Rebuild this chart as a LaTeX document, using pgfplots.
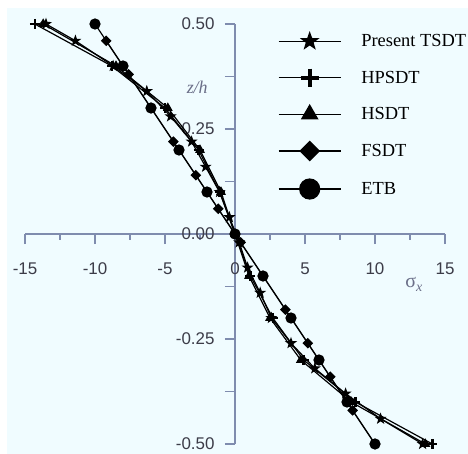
\documentclass[border=0pt]{standalone}
\usepackage{pgfplots}
\pgfplotsset{compat=1.18}
\usepackage{fontspec}
\setmainfont{Liberation Serif}
\newfontfamily\arialfont{Liberation Sans}
\definecolor{bgc}{HTML}{F0FCFF}
\definecolor{axc}{HTML}{7F8CAE}
\definecolor{tickc}{HTML}{3C3C48}
\definecolor{labc}{HTML}{6A6E88}

% filled five-point star
\pgfdeclareplotmark{fstar}{%
  \pgfpathmoveto{\pgfpointpolar{90}{\pgfplotmarksize}}%
  \pgfpathlineto{\pgfpointpolar{126}{0.4\pgfplotmarksize}}%
  \pgfpathlineto{\pgfpointpolar{162}{\pgfplotmarksize}}%
  \pgfpathlineto{\pgfpointpolar{198}{0.4\pgfplotmarksize}}%
  \pgfpathlineto{\pgfpointpolar{234}{\pgfplotmarksize}}%
  \pgfpathlineto{\pgfpointpolar{270}{0.4\pgfplotmarksize}}%
  \pgfpathlineto{\pgfpointpolar{306}{\pgfplotmarksize}}%
  \pgfpathlineto{\pgfpointpolar{342}{0.4\pgfplotmarksize}}%
  \pgfpathlineto{\pgfpointpolar{18}{\pgfplotmarksize}}%
  \pgfpathlineto{\pgfpointpolar{54}{0.4\pgfplotmarksize}}%
  \pgfpathclose\pgfusepathqfillstroke}
% square diamond
\pgfdeclareplotmark{sqdiamond}{%
  \pgfpathmoveto{\pgfqpoint{0pt}{\pgfplotmarksize}}%
  \pgfpathlineto{\pgfqpoint{\pgfplotmarksize}{0pt}}%
  \pgfpathlineto{\pgfqpoint{0pt}{-\pgfplotmarksize}}%
  \pgfpathlineto{\pgfqpoint{-\pgfplotmarksize}{0pt}}%
  \pgfpathclose\pgfusepathqfillstroke}

\begin{document}
\begin{tikzpicture}
\fill[white] (0bp,0bp) rectangle (468bp,454bp);
\fill[bgc] (7bp,0bp) rectangle (468bp,446bp);
\begin{axis}[
  at={(25bp,10bp)}, anchor=south west,
  scale only axis, width=420bp, height=420bp,
  xmin=-15, xmax=15, ymin=-0.5, ymax=0.5, enlargelimits=false,
  axis lines=middle, axis line style={axc, line width=1.2bp, -},
  xtick style={axc, line width=1.2bp}, ytick style={axc, line width=1.2bp},
  tick align=outside, major tick length=10bp, minor tick length=6bp,
  xtick={-15,-10,-5,0,5,10,15}, xticklabels={-15,-10,-5,0,5,10,15},
  minor xtick={-12.5,-7.5,-2.5,2.5,7.5,12.5},
  ytick={-0.5,-0.375,-0.25,-0.125,0,0.125,0.25,0.375,0.5},
  yticklabels={-0.50,,-0.25,,0.00,,0.25,,0.50},
  hide obscured x ticks=false, hide obscured y ticks=false,
  tick label style={font=\arialfont\fontsize{17}{17}\selectfont, text=tickc},
  xticklabel style={yshift=-15bp},
  yticklabel style={xshift=-7bp},
  clip=false,
  legend style={at={(0.595,0.985)}, anchor=north west, draw=none, fill=none,
    font=\fontsize{18.5}{18.5}\selectfont, row sep=18.5bp,
    /tikz/every odd column/.append style={column sep=18bp}},
  legend cell align=left,
  legend image code/.code={\draw[mark repeat=2,mark phase=2,#1]
    plot coordinates {(0bp,0bp) (31bp,0bp) (62bp,0bp)};},
]
\addplot[black, line width=1.2bp, mark=fstar, mark size=4.5bp,
  legend image post style={mark size=8.5bp}] coordinates {
  (-13.5,0.50) (-11.4,0.46) (-8.7,0.40) (-6.3,0.34) (-4.6,0.28) (-3.1,0.22)
  (-2.1,0.16) (-1.1,0.10) (-0.4,0.04) (0.3,-0.02) (0.9,-0.08) (1.8,-0.14)
  (2.6,-0.20) (4.0,-0.26) (5.7,-0.32) (7.9,-0.38) (10.4,-0.44) (13.4,-0.50)};
\addlegendentry{Present TSDT}
\addplot[black, line width=1.2bp, mark=+, mark size=5bp,
  mark options={line width=2.5bp},
  legend image post style={mark size=9bp, mark options={line width=4bp}}] coordinates {
  (-14.3,0.5) (-8.8,0.4) (-5.0,0.3) (-2.6,0.2) (-1.1,0.1) (0,0)
  (1.1,-0.1) (2.7,-0.2) (4.9,-0.3) (8.6,-0.4) (14.1,-0.5)};
\addlegendentry{HPSDT}
\addplot[black, line width=1.2bp, mark=triangle*, mark size=4.5bp,
  legend image post style={mark size=9bp}] coordinates {
  (-13.7,0.5) (-8.5,0.4) (-4.8,0.3) (-2.5,0.2) (-1.0,0.1) (0,0)
  (1.0,-0.1) (2.5,-0.2) (4.7,-0.3) (8.3,-0.4) (13.6,-0.5)};
\addlegendentry{HSDT}
\addplot[black, line width=1.2bp, mark=sqdiamond, mark size=4.5bp,
  legend image post style={mark size=9.5bp}] coordinates {
  (-9.2,0.46) (-7.6,0.38) (-6.0,0.30) (-4.4,0.22) (-2.8,0.14) (-1.2,0.06)
  (0.4,-0.02) (2.0,-0.10) (3.6,-0.18) (5.2,-0.26) (6.8,-0.34) (8.4,-0.42)
  (10.0,-0.50)};
\addlegendentry{FSDT}
\addplot[black, line width=1.2bp, mark=*, mark size=5bp,
  legend image post style={mark size=10bp}] coordinates {
  (-10,0.5) (-8,0.4) (-6,0.3) (-4,0.2) (-2,0.1) (0,0)
  (2,-0.1) (4,-0.2) (6,-0.3) (8,-0.4) (10,-0.5)};
\addlegendentry{ETB}
\node[labc, font=\itshape\fontsize{18}{18}\selectfont, anchor=east]
  at (axis cs:-1.7,0.348) {z/h};
\node[labc, font=\fontsize{20}{20}\selectfont]
  at (axis cs:12.8,-0.12) {σ\textsubscript{\textit{x}}};
\end{axis}
\pgfresetboundingbox
\path[use as bounding box] (0bp,0bp) rectangle (468bp,454bp);
\end{tikzpicture}
\end{document}
